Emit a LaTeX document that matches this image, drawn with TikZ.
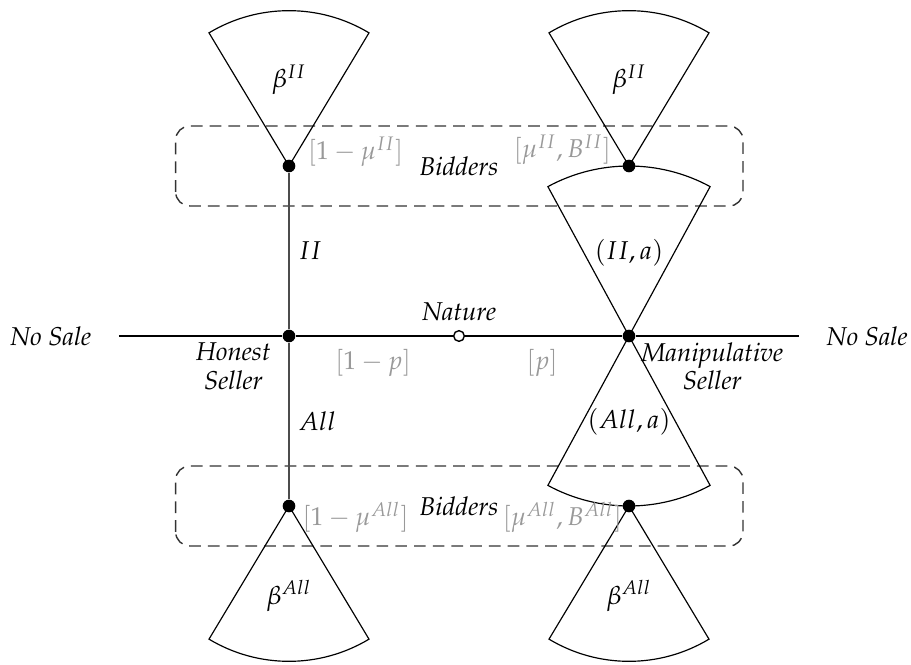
\documentclass[tikz,border=0pt]{standalone}
\usepackage[T1]{fontenc}
\usepackage{mathpazo}
\usepackage{xcolor}
\usepackage{tikz}
\usetikzlibrary{calc, positioning}

\begin{document}
\fontsize{11}{12}\selectfont
\begin{tikzpicture}[
        decision/.style = {circle, fill=black, inner sep=0pt, minimum size=0.19cm},
        chance/.style = {circle, draw=black, fill=white, line width=0.6pt, inner sep=0pt, minimum size=0.16cm},
        move/.style = {draw=black, line width=0.6pt},
        sellermove/.style = {draw=black!70, line width=0.8pt},
        cone/.style = {draw=black, line width=0.5pt},
        infoset/.style = {draw=black!80, dash pattern=on 5pt off 3pt, rounded corners=6pt, line width=0.6pt},
        belief/.style = {text=black!40},
        player/.style = {font=\itshape, align=center}
    ]

        % Frame
        \useasboundingbox (-6.885,-4.92) rectangle (6.78,5.04);

        % Information sets of the bidders
        \draw [infoset] (-4.25,1.95) rectangle (4.26,3.15);
        \draw [infoset] (-4.25,-3.15) rectangle (4.26,-1.95);

        % Nature and sellers
        \node (nature) [chance] at (0,0) {};
        \node (honest) [decision] at (-2.55,0) {};
        \node (manip) [decision] at (2.55,0) {};
        \coordinate (saleL) at (-5.1,0);
        \coordinate (saleR) at (5.1,0);

        % Bidder nodes
        \node (hII) [decision] at (-2.55,2.55) {};
        \node (hAll) [decision] at (-2.55,-2.55) {};
        \node (mII) [decision] at (2.55,2.55) {};
        \node (mAll) [decision] at (2.55,-2.55) {};

        % Moves
        \draw [move] (saleL) -- (honest);
        \draw [move] (honest) -- (nature);
        \draw [move] (nature) -- (manip);
        \draw [move] (manip) -- (saleR);
        \draw [sellermove] (honest) -- node[right] {$II$} (hII);
        \draw [sellermove] (honest) -- node[right] {$All$} (hAll);

        % Manipulative seller's report
        \draw [cone] (manip.center) -- ++(61.5:2.55) arc[start angle=61.5, end angle=118.5, radius=2.55] -- cycle;
        \draw [cone] (manip.center) -- ++(-61.5:2.55) arc[start angle=-61.5, end angle=-118.5, radius=2.55] -- cycle;

        % Bidder strategies
        \foreach \b in {hII, mII}
            \draw [cone] (\b.center) -- ++(59:2.33) arc[start angle=59, end angle=121, radius=2.33] -- cycle;
        \foreach \b in {hAll, mAll}
            \draw [cone] (\b.center) -- ++(-59:2.33) arc[start angle=-59, end angle=-121, radius=2.33] -- cycle;

        % Players
        \node (noSaleL) [player, left=0.28cm of saleL] {No Sale};
        \node (noSaleR) [player, right=0.28cm of saleR] {No Sale};
        \node (natureLbl) [player, above=0cm of nature] {Nature};
        \node (honestLbl) [player, below left=-0.03cm and 0.14cm of honest.center] {Honest\\Seller};
        \node (manipLbl) [player, below right=-0.03cm and 0.05cm of manip.center] {Manipulative\\Seller};
        \node (bidTop) [player] at (0,2.55) {Bidders};
        \node (bidBot) [player] at (0,-2.55) {Bidders};

        % Beliefs
        \node (pHonest) [belief] at ($(nature)+(-1.29,-0.4)$) {$[1-p]$};
        \node (pManip) [belief] at ($(nature)+(1.245,-0.4)$) {$[p]$};
        \node (muHII) [belief] at ($(hII)+(1.0,0.21)$) {$[1-\mu^{II}]$};
        \node (muMII) [belief] at ($(mII)+(-1.0,0.24)$) {$[\mu^{II},B^{II}]$};
        \node (muHAll) [belief] at ($(hAll)+(1.0,-0.17)$) {$[1-\mu^{All}]$};
        \node (muMAll) [belief] at ($(mAll)+(-1.0,-0.17)$) {$[\mu^{All},B^{All}]$};

        % Strategies
        \node (repII) at ($(manip)+(0,1.245)$) {$(II,a)$};
        \node (repAll) at ($(manip)+(0,-1.29)$) {$(All,a)$};
        \node (betaHII) at ($(hII)+(0,1.29)$) {$\beta^{II}$};
        \node (betaMII) at ($(mII)+(0,1.29)$) {$\beta^{II}$};
        \node (betaHAll) at ($(hAll)+(0,-1.35)$) {$\beta^{All}$};
        \node (betaMAll) at ($(mAll)+(0,-1.35)$) {$\beta^{All}$};

\end{tikzpicture}
\end{document}
